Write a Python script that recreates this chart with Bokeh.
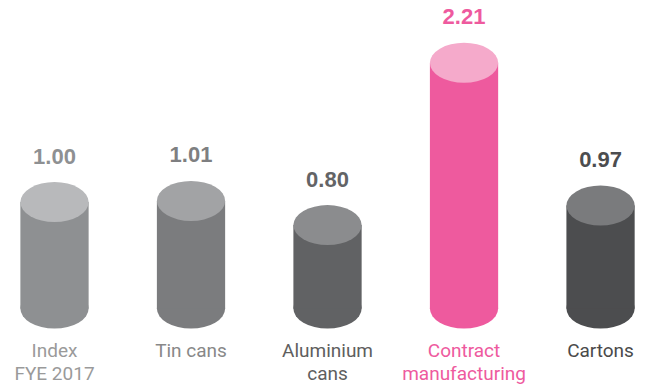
from bokeh.plotting import figure
from bokeh.models import Range1d, ColumnDataSource
from bokeh.core.properties import value
from bokeh.embed import file_html
from bokeh.resources import INLINE

# ---- data ----
categories = ["Index\nFYE 2017", "Tin cans", "Aluminium\ncans", "Contract\nmanufacturing", "Cartons"]
values = [1.00, 1.01, 0.80, 2.21, 0.97]
value_labels = ["1.00", "1.01", "0.80", "2.21", "0.97"]

# ---- styles ----
body_colors = ["#8e9092", "#7b7c7e", "#616264", "#ee5a9e", "#4c4d4f"]
top_colors = ["#b8b9bb", "#a2a3a5", "#8b8c8e", "#f5aacb", "#7a7b7d"]
value_colors = ["#8e9092", "#7e7f81", "#636466", "#ee5a9e", "#4c4d4f"]
cat_colors = ["#9a9a9a", "#888888", "#5e5e5e", "#ee5a9e", "#4a4a4a"]
BASE = 0.075
BAR_W = 0.5
ELL_H = 40

x = list(range(len(categories)))
line1 = [c.split("\n")[0] for c in categories]
line2 = [c.split("\n")[1] if "\n" in c else "" for c in categories]

src = ColumnDataSource(dict(
    x=x, v=values, base=[BASE] * len(x), lab=value_labels,
    body=body_colors, top=top_colors, vcol=value_colors, ccol=cat_colors,
    l1=line1, l2=line2,
))

p = figure(width=650, height=385, output_backend="svg", toolbar_location=None,
           x_range=Range1d(-0.3956, 4.366), y_range=Range1d(-0.593, 2.751),
           min_border=0, min_border_left=0, min_border_right=0,
           min_border_top=0, min_border_bottom=0)
p.axis.visible = False
p.grid.visible = False
p.outline_line_color = None
p.background_fill_color = "white"
p.border_fill_color = "white"

# bottom ellipse
p.ellipse(x="x", y="base", width=BAR_W, height=ELL_H, height_units="screen",
          fill_color="body", line_color=None, source=src)
# body
p.vbar(x="x", bottom="base", top="v", width=BAR_W, fill_color="body",
       line_color=None, source=src)
# top ellipse
p.ellipse(x="x", y="v", width=BAR_W, height=ELL_H, height_units="screen",
          fill_color="top", line_color=None, source=src)

# value labels
p.text(x="x", y="v", text="lab", y_offset=-46, text_color="vcol",
       text_font=value("Liberation Sans"), text_font_style="bold",
       text_font_size="22px", text_align="center", text_baseline="alphabetic",
       source=src)

# category labels
p.text(x="x", y="base", text="l1", y_offset=42, text_color="ccol",
       text_font=value("Roboto"), text_font_size="19px",
       text_align="center", text_baseline="alphabetic", source=src)
p.text(x="x", y="base", text="l2", y_offset=65, text_color="ccol",
       text_font=value("Roboto"), text_font_size="19px",
       text_align="center", text_baseline="alphabetic", source=src)

open("out.html", "w").write(file_html(p, INLINE))
